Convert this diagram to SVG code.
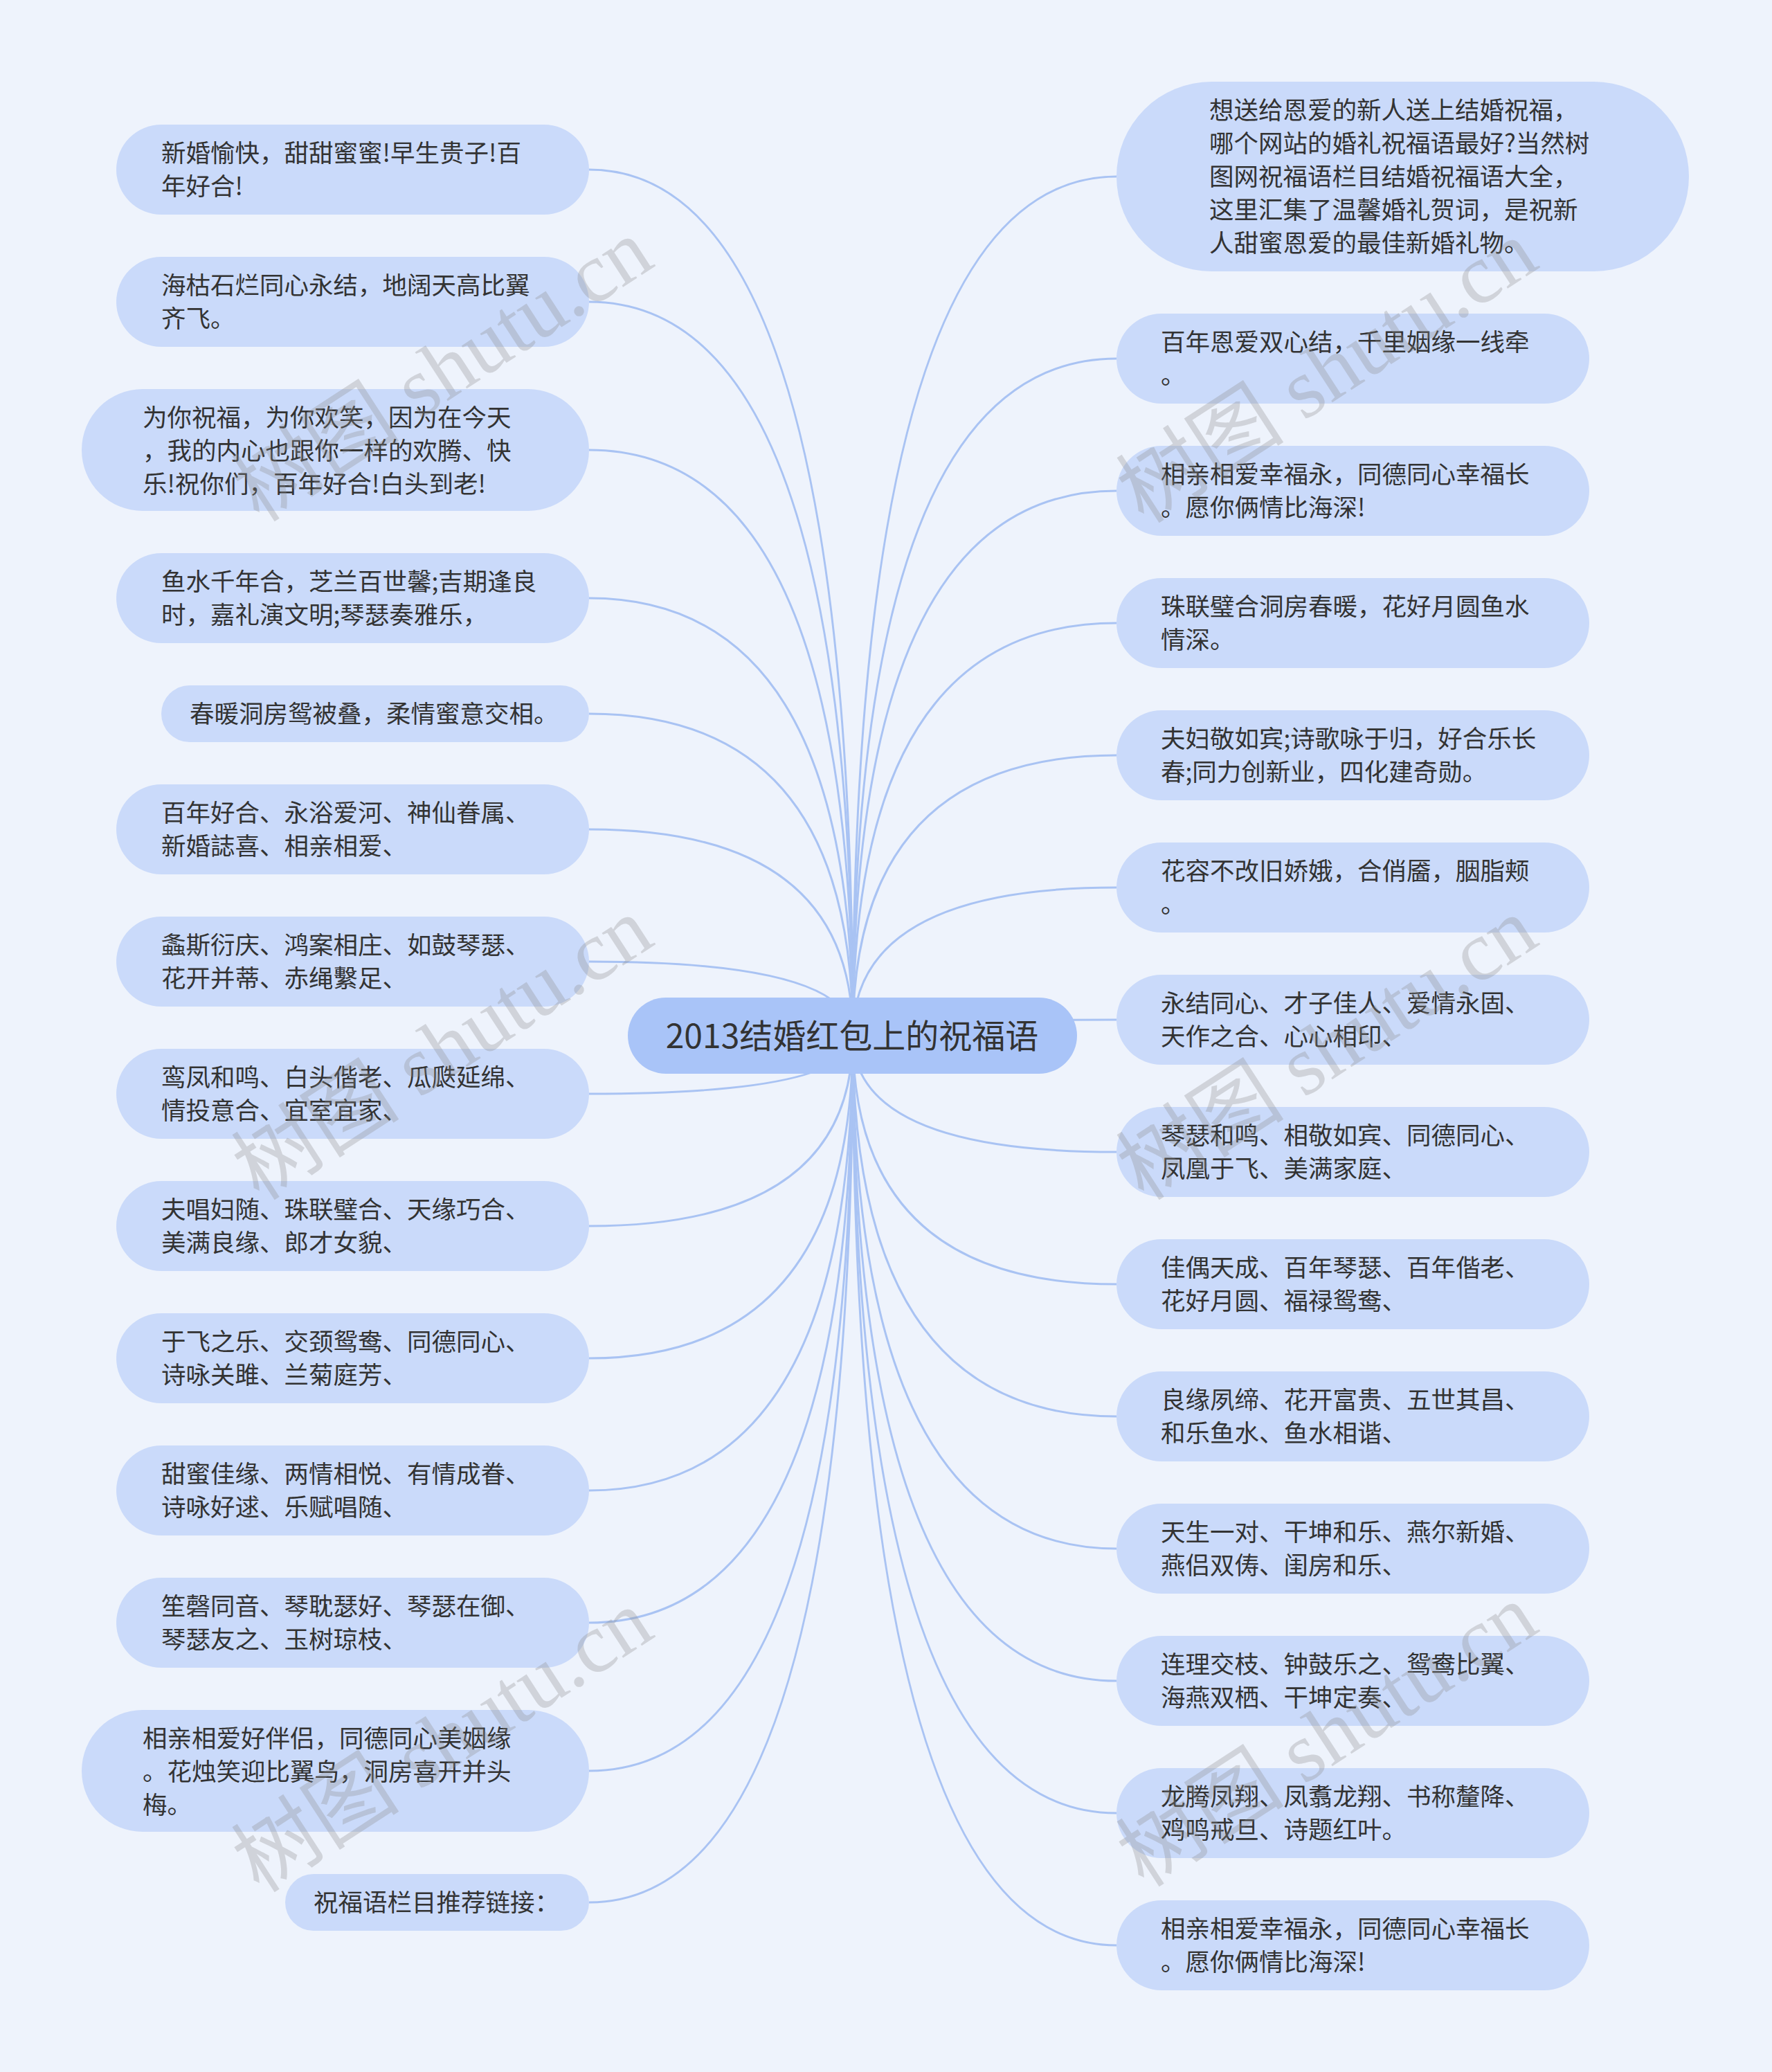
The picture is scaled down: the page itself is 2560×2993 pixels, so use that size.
<svg xmlns="http://www.w3.org/2000/svg" width="2560" height="2993" viewBox="0 0 2560 2993">
<style>
.bg{fill:#eef3fc}
.n rect{fill:#cadafa}
.n text,.c text{font-family:"Noto Sans CJK SC","Noto Sans",sans-serif;font-size:35.5px;fill:#333333}
.c rect{fill:#a9c4f8}
.c text{font-size:48px;text-anchor:middle}
.lk path{fill:none;stroke:#a9c3f3;stroke-width:3}
.wm text{font-family:"Liberation Serif","Noto Sans CJK SC",serif;font-size:122px;fill:#8a8a8a;fill-opacity:0.3;text-anchor:middle}
</style>
<rect class="bg" x="0" y="0" width="2560" height="2993"/>
<g id="connectors" class="lk">
<path d="M1232 1496 Q1232 245 851 245"/>
<path d="M1232 1496 Q1232 436 851 436"/>
<path d="M1232 1496 Q1232 650 851 650"/>
<path d="M1232 1496 Q1232 864 851 864"/>
<path d="M1232 1496 Q1232 1031 851 1031"/>
<path d="M1232 1496 Q1232 1198 851 1198"/>
<path d="M1232 1496 Q1232 1389 851 1389"/>
<path d="M1232 1496 Q1232 1580 851 1580"/>
<path d="M1232 1496 Q1232 1771 851 1771"/>
<path d="M1232 1496 Q1232 1962 851 1962"/>
<path d="M1232 1496 Q1232 2153 851 2153"/>
<path d="M1232 1496 Q1232 2344 851 2344"/>
<path d="M1232 1496 Q1232 2558 851 2558"/>
<path d="M1232 1496 Q1232 2748 851 2748"/>
<path d="M1232 1496 Q1232 255 1613 255"/>
<path d="M1232 1496 Q1232 518 1613 518"/>
<path d="M1232 1496 Q1232 709 1613 709"/>
<path d="M1232 1496 Q1232 900 1613 900"/>
<path d="M1232 1496 Q1232 1091 1613 1091"/>
<path d="M1232 1496 Q1232 1282 1613 1282"/>
<path d="M1232 1496 Q1232 1473 1613 1473"/>
<path d="M1232 1496 Q1232 1664 1613 1664"/>
<path d="M1232 1496 Q1232 1855 1613 1855"/>
<path d="M1232 1496 Q1232 2046 1613 2046"/>
<path d="M1232 1496 Q1232 2237 1613 2237"/>
<path d="M1232 1496 Q1232 2428 1613 2428"/>
<path d="M1232 1496 Q1232 2619 1613 2619"/>
<path d="M1232 1496 Q1232 2810 1613 2810"/>
</g>
<g id="center" class="c">
<rect x="907" y="1441" width="649" height="110" rx="55"/>
<text x="1231" y="1514">2013结婚红包上的祝福语</text>
</g>
<g id="L1" class="n"><rect x="168" y="180" width="683" height="130" rx="65"/><text x="233" y="234">新婚愉快，甜甜蜜蜜!早生贵子!百</text><text x="233" y="282">年好合!</text></g>
<g id="L2" class="n"><rect x="168" y="371" width="683" height="130" rx="65"/><text x="233" y="425">海枯石烂同心永结，地阔天高比翼</text><text x="233" y="473">齐飞。</text></g>
<g id="L3" class="n"><rect x="118" y="562" width="733" height="176" rx="88"/><text x="206" y="616">为你祝福，为你欢笑，因为在今天</text><text x="206" y="664">，我的内心也跟你一样的欢腾、快</text><text x="206" y="712">乐!祝你们，百年好合!白头到老!</text></g>
<g id="L4" class="n"><rect x="168" y="799" width="683" height="130" rx="65"/><text x="233" y="853">鱼水千年合，芝兰百世馨;吉期逢良</text><text x="233" y="901">时，嘉礼演文明;琴瑟奏雅乐，</text></g>
<g id="L5" class="n"><rect x="233" y="990" width="618" height="82" rx="41"/><text x="274" y="1044">春暖洞房鸳被叠，柔情蜜意交相。</text></g>
<g id="L6" class="n"><rect x="168" y="1133" width="683" height="130" rx="65"/><text x="233" y="1187">百年好合、永浴爱河、神仙眷属、</text><text x="233" y="1235">新婚誌喜、相亲相爱、</text></g>
<g id="L7" class="n"><rect x="168" y="1324" width="683" height="130" rx="65"/><text x="233" y="1378">螽斯衍庆、鸿案相庄、如鼓琴瑟、</text><text x="233" y="1426">花开并蒂、赤绳繫足、</text></g>
<g id="L8" class="n"><rect x="168" y="1515" width="683" height="130" rx="65"/><text x="233" y="1569">鸾凤和鸣、白头偕老、瓜瓞延绵、</text><text x="233" y="1617">情投意合、宜室宜家、</text></g>
<g id="L9" class="n"><rect x="168" y="1706" width="683" height="130" rx="65"/><text x="233" y="1760">夫唱妇随、珠联璧合、天缘巧合、</text><text x="233" y="1808">美满良缘、郎才女貌、</text></g>
<g id="L10" class="n"><rect x="168" y="1897" width="683" height="130" rx="65"/><text x="233" y="1951">于飞之乐、交颈鸳鸯、同德同心、</text><text x="233" y="1999">诗咏关雎、兰菊庭芳、</text></g>
<g id="L11" class="n"><rect x="168" y="2088" width="683" height="130" rx="65"/><text x="233" y="2142">甜蜜佳缘、两情相悦、有情成眷、</text><text x="233" y="2190">诗咏好逑、乐赋唱随、</text></g>
<g id="L12" class="n"><rect x="168" y="2279" width="683" height="130" rx="65"/><text x="233" y="2333">笙磬同音、琴耽瑟好、琴瑟在御、</text><text x="233" y="2381">琴瑟友之、玉树琼枝、</text></g>
<g id="L13" class="n"><rect x="118" y="2470" width="733" height="176" rx="88"/><text x="206" y="2524">相亲相爱好伴侣，同德同心美姻缘</text><text x="206" y="2572">。花烛笑迎比翼鸟，洞房喜开并头</text><text x="206" y="2620">梅。</text></g>
<g id="L14" class="n"><rect x="412" y="2707" width="439" height="82" rx="41"/><text x="453" y="2761">祝福语栏目推荐链接：</text></g>
<g id="R1" class="n"><rect x="1613" y="118" width="827" height="274" rx="137"/><text x="1747" y="172">想送给恩爱的新人送上结婚祝福，</text><text x="1747" y="220">哪个网站的婚礼祝福语最好?当然树</text><text x="1747" y="268">图网祝福语栏目结婚祝福语大全，</text><text x="1747" y="316">这里汇集了温馨婚礼贺词，是祝新</text><text x="1747" y="364">人甜蜜恩爱的最佳新婚礼物。</text></g>
<g id="R2" class="n"><rect x="1613" y="453" width="683" height="130" rx="65"/><text x="1677" y="507">百年恩爱双心结，千里姻缘一线牵</text><text x="1677" y="555">。</text></g>
<g id="R3" class="n"><rect x="1613" y="644" width="683" height="130" rx="65"/><text x="1677" y="698">相亲相爱幸福永，同德同心幸福长</text><text x="1677" y="746">。愿你俩情比海深!</text></g>
<g id="R4" class="n"><rect x="1613" y="835" width="683" height="130" rx="65"/><text x="1677" y="889">珠联璧合洞房春暖，花好月圆鱼水</text><text x="1677" y="937">情深。</text></g>
<g id="R5" class="n"><rect x="1613" y="1026" width="683" height="130" rx="65"/><text x="1677" y="1080">夫妇敬如宾;诗歌咏于归，好合乐长</text><text x="1677" y="1128">春;同力创新业，四化建奇勋。</text></g>
<g id="R6" class="n"><rect x="1613" y="1217" width="683" height="130" rx="65"/><text x="1677" y="1271">花容不改旧娇娥，合俏靥，胭脂颊</text><text x="1677" y="1319">。</text></g>
<g id="R7" class="n"><rect x="1613" y="1408" width="683" height="130" rx="65"/><text x="1677" y="1462">永结同心、才子佳人、爱情永固、</text><text x="1677" y="1510">天作之合、心心相印、</text></g>
<g id="R8" class="n"><rect x="1613" y="1599" width="683" height="130" rx="65"/><text x="1677" y="1653">琴瑟和鸣、相敬如宾、同德同心、</text><text x="1677" y="1701">凤凰于飞、美满家庭、</text></g>
<g id="R9" class="n"><rect x="1613" y="1790" width="683" height="130" rx="65"/><text x="1677" y="1844">佳偶天成、百年琴瑟、百年偕老、</text><text x="1677" y="1892">花好月圆、福禄鸳鸯、</text></g>
<g id="R10" class="n"><rect x="1613" y="1981" width="683" height="130" rx="65"/><text x="1677" y="2035">良缘夙缔、花开富贵、五世其昌、</text><text x="1677" y="2083">和乐鱼水、鱼水相谐、</text></g>
<g id="R11" class="n"><rect x="1613" y="2172" width="683" height="130" rx="65"/><text x="1677" y="2226">天生一对、干坤和乐、燕尔新婚、</text><text x="1677" y="2274">燕侣双俦、闺房和乐、</text></g>
<g id="R12" class="n"><rect x="1613" y="2363" width="683" height="130" rx="65"/><text x="1677" y="2417">连理交枝、钟鼓乐之、鸳鸯比翼、</text><text x="1677" y="2465">海燕双栖、干坤定奏、</text></g>
<g id="R13" class="n"><rect x="1613" y="2554" width="683" height="130" rx="65"/><text x="1677" y="2608">龙腾凤翔、凤翥龙翔、书称釐降、</text><text x="1677" y="2656">鸡鸣戒旦、诗题红叶。</text></g>
<g id="R14" class="n"><rect x="1613" y="2745" width="683" height="130" rx="65"/><text x="1677" y="2799">相亲相爱幸福永，同德同心幸福长</text><text x="1677" y="2847">。愿你俩情比海深!</text></g>
<g id="watermarks" class="wm">
<text transform="translate(640 536) rotate(-33)" y="40">树图 shutu.cn</text>
<text transform="translate(1918 538) rotate(-33)" y="40">树图 shutu.cn</text>
<text transform="translate(640 1516) rotate(-33)" y="40">树图 shutu.cn</text>
<text transform="translate(1918 1516) rotate(-33)" y="40">树图 shutu.cn</text>
<text transform="translate(640 2516) rotate(-33)" y="40">树图 shutu.cn</text>
<text transform="translate(1918 2508) rotate(-33)" y="40">树图 shutu.cn</text>
</g>
</svg>
